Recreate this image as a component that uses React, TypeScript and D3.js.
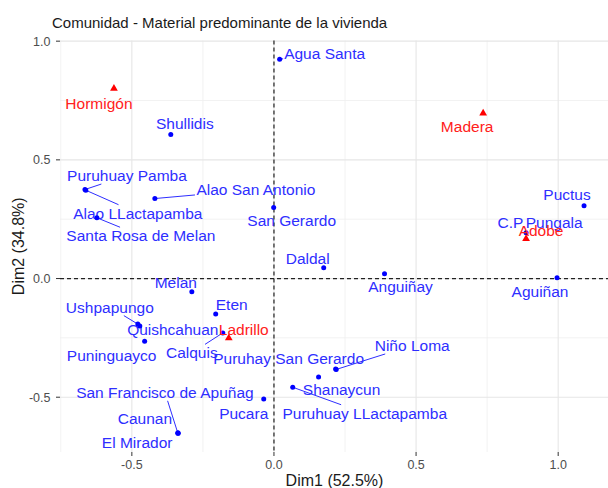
import React from "react";
import * as d3 from "d3";

// filas (comunidades) - puntos azules
const rowNames = [
  "Agua Santa", "Shullidis", "Puruhuay Pamba", "Alao LLactapamba", "Alao San Antonio",
  "Santa Rosa de Melan", "San Gerardo", "Daldal", "Anguiñay", "Aguiñan",
  "Puctus", "C.P.Pungala", "Melan", "Ushpapungo", "Quishcahuan",
  "Puninguayco", "Eten", "Calquis", "Puruhay San Gerardo", "Niño Loma",
  "Shanaycun", "Puruhuay LLactapamba", "Pucara", "San Francisco de Apuñag", "Caunan",
  "El Mirador"
];
const rowDim1 = [
  0.020, -0.363, -0.665, -0.662, -0.419,
  -0.623, -0.001, 0.175, 0.389, 0.996,
  1.091, 0.887, -0.289, -0.479, -0.472,
  -0.455, -0.205, -0.180, 0.217, 0.219,
  0.157, 0.066, -0.036, -0.338, -0.338,
  -0.337
];
const rowDim2 = [
  0.924, 0.607, 0.375, 0.372, 0.337,
  0.256, 0.299, 0.045, 0.020, 0.003,
  0.307, 0.193, -0.056, -0.192, -0.200,
  -0.264, -0.149, -0.229, -0.381, -0.383,
  -0.415, -0.458, -0.508, -0.652, -0.650,
  -0.652
];

// columnas (material) - triangulos rojos
const colNames = ["Hormigón", "Madera", "Adobe", "Ladrillo"];
const colDim1 = [-0.563, 0.736, 0.887, -0.159];
const colDim2 = [0.801, 0.696, 0.168, -0.251];

const xTicks = [-0.5, 0, 0.5, 1.0];
const yTicks = [-0.5, 0, 0.5, 1.0];

// where the repelled labels ended up: px offset from the point, and if a segment is drawn
const rowNudge: [number, number, boolean][] = [
  [45, -6, true], [14, -11, false], [42, -14, true], [52, 23, true], [101, -9, true],
  [44, 18, true], [18, 13, false], [-16, -9, false], [16, 13, false], [-17, 14, false],
  [-17, -11, false], [14, -10, false], [-16, -9, false], [-28, -17, true], [33, 4, false],
  [-33, 14, false], [16, -9, false], [-31, 20, true], [-47, -10, false], [76, -24, true],
  [23, 13, false], [72, 26, true], [-20, 14, false], [-13, -41, true], [-33, -14, false],
  [-41, 9, false]
];
const colNudge: [number, number, boolean][] = [
  [-15, 15, false], [-16, 13, false], [15, -8, false], [15, -9, true]
];

const layout = { width: 608, height: 488, left: 60, right: 609, top: 40.5, bottom: 452 };
const FONT = '"Liberation Sans", Arial, sans-serif';
const LABEL_SIZE = 15.5;

let ctx: CanvasRenderingContext2D | null = null;
function textWidth(s: string) {
  if (!ctx) ctx = document.createElement("canvas").getContext("2d");
  if (!ctx) return s.length * LABEL_SIZE * 0.5;
  ctx.font = `${LABEL_SIZE}px ${FONT}`;
  return ctx.measureText(s).width;
}

const fmt = d3.formatLocale({ decimal: ".", thousands: ",", grouping: [3], currency: ["", ""], minus: "-" }).format(".1f");

function expand(vals: number[]) {
  const [lo, hi] = d3.extent(vals) as [number, number];
  const pad = (hi - lo) * 0.05;
  return [lo - pad, hi + pad];
}

function RepelLabel({ px, py, nudge, text, color }: any) {
  const [dx, dy, seg] = nudge;
  const cx = px + dx;
  const cy = py + dy;
  let line = null;
  if (seg) {
    const hw = textWidth(text) / 2 + 1;
    const hh = LABEL_SIZE * 0.55;
    const tx = Math.abs(dx) > 0 ? (Math.abs(dx) - hw) / Math.abs(dx) : -1;
    const ty = Math.abs(dy) > 0 ? (Math.abs(dy) - hh) / Math.abs(dy) : -1;
    const t = Math.max(0, Math.max(tx, ty));
    line = (
      <line x1={px} y1={py} x2={px + dx * t} y2={py + dy * t} stroke={color} strokeWidth={1} />
    );
  }
  return (
    <g>
      {line}
      <text x={cx} y={cy} dy="0.35em" textAnchor="middle" fill={color} fontSize={LABEL_SIZE}>
        {text}
      </text>
    </g>
  );
}

export default function App() {
  const allX = rowDim1.concat(colDim1);
  const allY = rowDim2.concat(colDim2);
  const x = d3.scaleLinear().domain(expand(allX)).range([layout.left, layout.right]);
  const y = d3.scaleLinear().domain(expand(allY)).range([layout.bottom, layout.top]);

  const [x0, x1] = x.domain();
  const [y0, y1] = y.domain();
  const xMinor = [-0.75, -0.25, 0.25, 0.75, 1.25].filter(v => v >= x0 && v <= x1);
  const yMinor = [-0.75, -0.25, 0.25, 0.75, 1.25].filter(v => v >= y0 && v <= y1);

  const tri = d3.symbol().type(d3.symbolTriangle).size(26)();

  return (
    <svg
      width={layout.width}
      height={layout.height}
      style={{ position: "absolute", left: 0, top: 0, fontFamily: FONT }}
    >
      <rect width={layout.width} height={layout.height} fill="#fff" />

      {/* grid */}
      {xMinor.map(v => (
        <line key={"xm" + v} x1={x(v)} x2={x(v)} y1={layout.top} y2={layout.bottom} stroke="#efefef" strokeWidth={0.8} />
      ))}
      {yMinor.map(v => (
        <line key={"ym" + v} y1={y(v)} y2={y(v)} x1={layout.left} x2={layout.right} stroke="#efefef" strokeWidth={0.8} />
      ))}
      {xTicks.map(v => (
        <line key={"xg" + v} x1={x(v)} x2={x(v)} y1={layout.top} y2={layout.bottom} stroke="#e6e6e6" strokeWidth={1.1} />
      ))}
      {yTicks.map(v => (
        <line key={"yg" + v} y1={y(v)} y2={y(v)} x1={layout.left} x2={layout.right} stroke="#e6e6e6" strokeWidth={1.1} />
      ))}

      {/* origin */}
      <line x1={x(0)} x2={x(0)} y1={layout.top} y2={layout.bottom} stroke="#222" strokeWidth={1.2} strokeDasharray="4 3" />
      <line y1={y(0)} y2={y(0)} x1={layout.left} x2={layout.right} stroke="#222" strokeWidth={1.2} strokeDasharray="4 3" />

      {/* axes */}
      {xTicks.map(v => (
        <g key={"xt" + v}>
          <line x1={x(v)} x2={x(v)} y1={layout.bottom} y2={layout.bottom + 4} stroke="#333" strokeWidth={1} />
          <text x={x(v)} y={layout.bottom + 13} dy="0.35em" textAnchor="middle" fontSize={12.5} fill="#4d4d4d">
            {fmt(v)}
          </text>
        </g>
      ))}
      {yTicks.map(v => (
        <g key={"yt" + v}>
          <line x1={layout.left - 4} x2={layout.left} y1={y(v)} y2={y(v)} stroke="#333" strokeWidth={1} />
          <text x={layout.left - 9.5} y={y(v)} dy="0.35em" textAnchor="end" fontSize={12.5} fill="#4d4d4d">
            {fmt(v)}
          </text>
        </g>
      ))}

      {/* rows */}
      {rowNames.map((name, i) => (
        <RepelLabel key={"rl" + i} px={x(rowDim1[i])} py={y(rowDim2[i])} nudge={rowNudge[i]} text={name} color="#2e2eff" />
      ))}
      {rowNames.map((name, i) => (
        <circle key={"rp" + i} cx={x(rowDim1[i])} cy={y(rowDim2[i])} r={2.5} fill="#0000ff" />
      ))}

      {/* columns */}
      {colNames.map((name, i) => (
        <path key={"cp" + i} d={tri || ""} transform={`translate(${x(colDim1[i])},${y(colDim2[i])})`} fill="#ff0000" />
      ))}
      {colNames.map((name, i) => (
        <RepelLabel key={"cl" + i} px={x(colDim1[i])} py={y(colDim2[i])} nudge={colNudge[i]} text={name} color="#ff2020" />
      ))}

      {/* titles */}
      <text x={52} y={28} fontSize={15} fill="#1a1a1a">
        Comunidad - Material predominante de la vivienda
      </text>
      <text x={(layout.left + layout.right) / 2} y={486} textAnchor="middle" fontSize={16} fill="#1a1a1a">
        Dim1 (52.5%)
      </text>
      <text transform={`translate(24,${(layout.top + layout.bottom) / 2}) rotate(-90)`} textAnchor="middle" fontSize={16} fill="#1a1a1a">
        Dim2 (34.8%)
      </text>
    </svg>
  );
}
